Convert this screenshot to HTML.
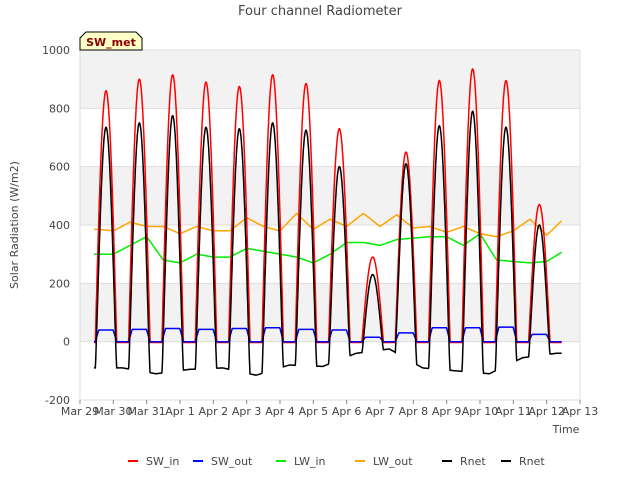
<!DOCTYPE html>
<html><head><meta charset="utf-8"><style>
body{margin:0;background:#fff;font-family:"Liberation Sans",sans-serif}
svg text{font-family:"DejaVu Sans","Liberation Sans",sans-serif;fill:#444}
</style></head><body>
<svg id="chart" width="640" height="480">
<text x="320" y="15" text-anchor="middle" font-size="13">Four channel Radiometer</text>
<g id="bands"></g>
<g id="grid"></g>
<clipPath id="clip"><rect x="80" y="50" width="500" height="350"/></clipPath>
<g id="series" clip-path="url(#clip)"></g>
<g id="axes"></g>
<text transform="translate(18,225) rotate(-90)" text-anchor="middle" font-size="11">Solar Radiation (W/m2)</text>
<text x="566" y="433" text-anchor="middle" font-size="11">Time</text>
<g>
<path d="M80,50 L80,38 L86,32 L136,32 L142,38 L142,50 Z" fill="#ffffc8" stroke="#000" stroke-width="1"/>
<text x="111" y="46" text-anchor="middle" font-size="11" font-weight="bold" style="fill:#8b0000">SW_met</text>
</g>
<g id="legend"></g>
</svg>
<script>
const yTicks=[-200,0,200,400,600,800,1000];
const xTickLabels=["Mar 29","Mar 30","Mar 31","Apr 1","Apr 2","Apr 3","Apr 4","Apr 5","Apr 6","Apr 7","Apr 8","Apr 9","Apr 10","Apr 11","Apr 12","Apr 13"];
const swInPeaks=[860,900,915,890,875,915,885,730,290,650,895,935,895,470];
const swOutPeaks=[40,42,45,42,45,48,42,40,15,30,48,48,50,25];
const rnetPeaks=[735,750,775,735,730,750,725,600,230,610,740,790,735,400];
const rnetNights=[-90,-90,-110,-95,-90,-115,-80,-85,-40,-25,-90,-100,-110,-55,-40];
const lwIn=[300,300,330,360,280,270,300,290,290,320,310,300,290,270,300,340,340,330,350,355,360,360,330,370,280,275,270,275,310,330,350,370,340];
const lwOut=[385,380,410,395,395,370,395,380,380,425,395,380,440,385,420,395,440,395,435,390,395,375,395,370,360,380,420,365,420,390,405,385,400];
const sx=t=>80+t*500/15, sy=v=>400-(v+200)*350/1200;
const NS="http://www.w3.org/2000/svg";
function mk(tag,attrs,parent){const e=document.createElementNS(NS,tag);for(const k in attrs)e.setAttribute(k,attrs[k]);parent.appendChild(e);return e;}
const bands=document.getElementById('bands'),grid=document.getElementById('grid'),axes=document.getElementById('axes'),series=document.getElementById('series');
mk('rect',{x:80,y:50,width:500,height:350,fill:'#fff'},bands);
for(let i=0;i<yTicks.length-1;i++){if(i%2===1){const r=mk('rect',{x:80,y:sy(yTicks[i+1]),width:500,height:sy(yTicks[i])-sy(yTicks[i+1]),fill:'#f2f2f2'},bands);}}
yTicks.forEach(v=>{mk('line',{x1:80,x2:580,y1:sy(v),y2:sy(v),stroke:'#ddd'},grid);
const t=mk('text',{x:70,y:sy(v)+4,'text-anchor':'end','font-size':11},axes);t.textContent=v;
});
xTickLabels.forEach((l,i)=>{mk('line',{x1:sx(i),x2:sx(i),y1:400,y2:404,stroke:'#888'},axes);
const t=mk('text',{x:sx(i),y:415,'text-anchor':'middle','font-size':11},axes);t.textContent=l;
});
mk('rect',{x:80,y:50,width:500,height:350,fill:'none',stroke:'#ddd'},grid);
const C0=0.78,HW=0.32;
function dayShape(t){const i=Math.round(t-C0);if(i<0||i>=swInPeaks.length)return[i,0];const d=t-(C0+i);if(Math.abs(d)>=HW)return[i,0];return[i,Math.cos(Math.PI*d/(2*HW))];}
function nightVal(t){const f=(t-C0-0.5);const k=Math.floor(f)+1;const a=rnetNights[Math.max(0,Math.min(k,rnetNights.length-1))];const b=rnetNights[Math.max(0,Math.min(k+1,rnetNights.length-1))];const fr=f-Math.floor(f);return a+(b-a)*fr;}
const T0=0.42,T1=14.45,N=1400;
function path(fn){let d='';for(let j=0;j<=N;j++){const t=T0+(T1-T0)*j/N;d+=(j?'L':'M')+sx(t).toFixed(1)+','+sy(fn(t)).toFixed(1);}return d;}
function interp(arr,t){const p=(t-0.5)*2;const i=Math.max(0,Math.min(arr.length-2,Math.floor(p)));const f=Math.max(0,Math.min(1,p-i));return arr[i]+(arr[i+1]-arr[i])*f;}
const defs=[
 ['lw-out-line','#ffa500',t=>interp(lwOut,t)],
 ['lw-in-line','#00ee00',t=>interp(lwIn,t)],
 ['sw-in-line','#ff0000',t=>{const[i,s]=dayShape(t);return s?swInPeaks[i]*s:-3;}],
 ['sw-out-line','#0000ff',t=>{const[i,s]=dayShape(t);return s?swOutPeaks[i]*Math.min(1,s*2):0;}],
 ['rnet-line','#000000',t=>{const[i,s]=dayShape(t);const n=nightVal(t);return s?n+(rnetPeaks[i]-n)*Math.pow(s,1.15):n;}]
];
defs.forEach(([name,col,fn])=>{const p=mk('path',{d:path(fn),fill:'none',stroke:col,'stroke-width':1.5},series);
});
const leg=[['SW_in','#ff0000',128],['SW_out','#0000ff',193],['LW_in','#00ee00',276],['LW_out','#ffa500',355],['Rnet','#000000',442],['Rnet','#000000',501]];
const lg=document.getElementById('legend');
leg.forEach(([l,c,x])=>{const g=mk('g',{},lg);
mk('line',{x1:x,x2:x+10,y1:461,y2:461,stroke:c,'stroke-width':2},g);
const t=mk('text',{x:x+18,y:465,'font-size':11},g);t.textContent=l;});
</script>
</body></html>
